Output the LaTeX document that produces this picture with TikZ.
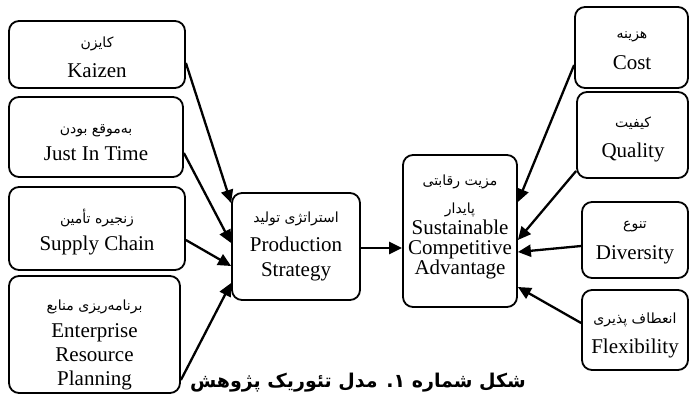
\documentclass[tikz,border=0pt]{standalone}
\usepackage{fontspec}
\setmainfont{Liberation Serif}
\newfontfamily\fa[Script=Arabic]{DejaVu Sans}
\TeXXeTstate=1
\usetikzlibrary{arrows.meta}
\begin{document}
\begin{tikzpicture}[x=1bp,y=-1bp,
  box/.style={draw, line width=1.8bp, rounded corners=10bp, inner sep=0pt},
  en/.style={font=\fontsize{21bp}{24bp}\selectfont, inner sep=0pt, anchor=base},
  fat/.style={font=\fontsize{14bp}{16bp}\fa, inner sep=0pt, anchor=base},
  captxt/.style={font=\fontsize{19bp}{22bp}\fa\bfseries, inner sep=0pt, anchor=base},
  arr/.style={line width=2.3bp, -{Triangle[length=13bp,width=12bp]}}]
\useasboundingbox (0,0) rectangle (690,394);
% left boxes
\node[box, minimum width=176bp, minimum height=67bp] (kai) at (97,54.5) {};
\node[fat] (kaiF) at (97,47) {\beginR کایزن\endR};
\node[en] (kaiE) at (97,77) {Kaizen};
\node[box, minimum width=174bp, minimum height=80bp] (jit) at (96,137) {};
\node[fat] (jitF) at (96,133) {\beginR به‌موقع بودن\endR};
\node[en] (jitE) at (96,160) {Just In Time};
\node[box, minimum width=176bp, minimum height=83bp] (sc) at (97,228.5) {};
\node[fat] (scF) at (97,223) {\beginR زنجیره تأمین\endR};
\node[en] (scE) at (97,250) {Supply Chain};
\node[box, minimum width=171bp, minimum height=117bp] (erp) at (94.5,334.5) {};
\node[fat] (erpF) at (94.5,310) {\beginR برنامه‌ریزی منابع\endR};
\node[en] (erpE1) at (94.5,337) {Enterprise};
\node[en] (erpE2) at (94.5,361) {Resource};
\node[en] (erpE3) at (94.5,385) {Planning};
% middle
\node[box, minimum width=128bp, minimum height=107bp] (ps) at (296,246.5) {};
\node[fat] (psF) at (296,222) {\beginR استراتژی تولید\endR};
\node[en] (psE1) at (296,251) {Production};
\node[en] (psE2) at (296,276) {Strategy};
\node[box, minimum width=114bp, minimum height=152bp] (sca) at (460,231) {};
\node[fat] (scaF1) at (460,185) {\beginR مزیت رقابتی\endR};
\node[fat] (scaF2) at (460,213) {\beginR پایدار\endR};
\node[en] (scaE1) at (460,234) {Sustainable};
\node[en] (scaE2) at (460,254) {Competitive};
\node[en] (scaE3) at (460,274) {Advantage};
% right boxes
\node[box, minimum width=113bp, minimum height=81bp] (cost) at (631.5,47.5) {};
\node[fat] (costF) at (632,38) {\beginR هزینه\endR};
\node[en] (costE) at (632,69) {Cost};
\node[box, minimum width=111bp, minimum height=86bp] (qual) at (632.5,135) {};
\node[fat] (qualF) at (633,127) {\beginR کیفیت\endR};
\node[en] (qualE) at (633,157) {Quality};
\node[box, minimum width=106bp, minimum height=76bp] (div) at (635,240) {};
\node[fat] (divF) at (635,228) {\beginR تنوع\endR};
\node[en] (divE) at (635,259) {Diversity};
\node[box, minimum width=106bp, minimum height=80bp] (flex) at (635,330) {};
\node[fat] (flexF) at (635,323) {\beginR انعطاف پذیری\endR};
\node[en] (flexE) at (635,353) {Flexibility};
% caption
\node[captxt] (caption) at (358,387) {\beginR شکل شماره ۱. مدل تئوریک پژوهش\endR};
% connectors
\draw[arr] ([yshift=-8.5bp]kai.east) -- ([yshift=43.5bp]ps.west);
\draw[arr] ([yshift=-16bp]jit.east) -- ([yshift=3.5bp]ps.west);
\draw[arr] ([yshift=-11.5bp]sc.east) -- ([yshift=-19.5bp]ps.west);
\draw[arr] ([yshift=-45.5bp]erp.east) -- ([yshift=-36.5bp]ps.west);
\draw[arr] ([yshift=-1.5bp]ps.east) -- ([yshift=-1.5bp]ps.east -| sca.west);
\draw[arr] ([yshift=-17.5bp]cost.west) -- ([yshift=29bp]sca.east);
\draw[arr] ([yshift=-36bp]qual.west) -- ([yshift=-9bp]sca.east);
\draw[arr] ([yshift=-6bp]div.west) -- ([yshift=-21bp]sca.east);
\draw[arr] ([yshift=7bp]flex.west) -- ([yshift=-56bp]sca.east);
\end{tikzpicture}
\end{document}
